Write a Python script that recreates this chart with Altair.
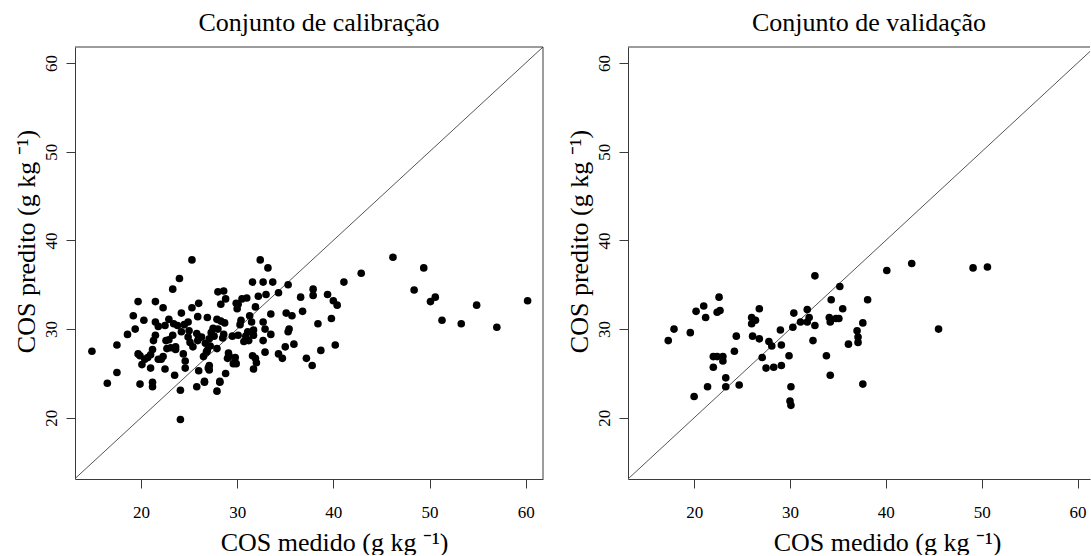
import altair as alt
import pandas as pd

# ---- data ----
cal_medido = [25.3, 32.4, 33.2, 46.2, 49.4, 42.9, 41.1, 24.0, 23.3, 31.6, 32.7, 33.7, 35.3, 48.4, 37.9, 37.9,
              34.3, 33.0, 32.2, 31.0, 28.0, 28.6, 28.8, 28.3, 30.5, 29.9, 30.0, 36.6, 39.4, 40.0, 40.4, 50.1,
              50.6, 54.9, 60.2, 51.3, 53.3, 57.0, 39.8, 38.4, 36.8, 35.1, 35.7, 33.5, 31.9, 31.3, 32.7, 32.9,
              35.4, 35.3, 33.5, 31.7, 31.7, 32.7, 32.9, 35.0, 35.9, 34.3, 34.7, 37.2, 38.7, 37.8, 40.2, 31.6,
              31.9, 32.0, 31.7, 31.2, 30.9, 30.7, 31.1, 30.4, 30.3, 31.5, 30.1, 29.6, 29.9, 29.1, 29.0, 28.8,
              28.6, 28.7, 28.3, 27.9, 27.5, 27.3, 27.6, 27.1, 26.9, 26.7, 27.2, 26.9, 26.5, 27.1, 27.1, 26.6,
              28.2, 27.9, 25.8, 26.0, 25.1, 25.4, 24.9, 25.8, 26.0, 25.9, 26.0, 25.3, 24.9, 24.5, 24.2, 24.2,
              23.8, 23.4, 23.3, 23.6, 23.1, 22.7, 22.9, 22.9, 22.5, 22.3, 21.5, 21.5, 21.5, 21.3, 21.2, 21.0,
              20.7, 21.8, 22.1, 22.3, 22.5, 23.5, 24.6, 24.6, 24.1, 24.1, 21.2, 21.2, 21.0, 20.1, 19.9, 19.7,
              19.7, 20.3, 19.2, 19.4, 18.6, 17.5, 14.9, 17.5, 16.5,
              26.8, 29.2, 25.9, 26.3, 23.6, 22.6, 28.2, 26.6, 27.0, 29.8, 25.0, 28.0, 28.5, 30.1, 29.5, 27.9,
              24.4, 21.8, 20.4, 19.9]
cal_predito = [37.8, 37.8, 36.9, 38.1, 36.9, 36.3, 35.3, 35.7, 34.5, 35.3, 35.3, 35.3, 35.0, 34.4, 34.5, 33.8,
               34.1, 33.9, 33.7, 33.5, 34.2, 34.3, 33.4, 32.8, 33.4, 32.9, 32.3, 33.6, 33.9, 33.2, 32.7, 33.1,
               33.6, 32.7, 33.2, 31.0, 30.6, 30.2, 31.2, 30.6, 32.0, 31.8, 31.5, 31.7, 32.5, 31.5, 30.8, 30.0,
               30.0, 29.7, 29.4, 29.9, 29.3, 28.7, 27.4, 28.0, 28.3, 27.2, 26.7, 26.7, 27.6, 25.9, 28.2, 27.0,
               26.7, 26.2, 25.5, 28.7, 29.2, 28.6, 29.7, 31.0, 30.5, 30.8, 29.3, 26.1, 26.1, 27.3, 26.7, 25.0,
               29.4, 30.7, 30.9, 31.1, 30.1, 29.6, 29.2, 28.9, 31.3, 28.4, 28.1, 27.6, 26.9, 25.9, 25.4, 24.0,
               24.0, 23.0, 23.5, 25.3, 28.5, 28.0, 29.1, 29.5, 29.1, 31.4, 32.9, 32.4, 30.8, 30.5, 31.8, 29.7,
               30.4, 30.6, 29.3, 27.7, 27.9, 27.8, 28.8, 31.1, 30.4, 32.4, 33.1, 30.8, 29.3, 28.7, 27.7, 27.1,
               26.8, 26.6, 26.6, 26.9, 25.5, 24.8, 26.4, 25.6, 23.1, 19.8, 24.0, 23.5, 25.6, 26.0, 23.8, 27.2,
               33.1, 31.0, 31.5, 30.0, 29.4, 28.2, 27.5, 25.1, 23.9,
               27.4, 26.9, 28.7, 29.1, 28.0, 28.7, 24.1, 24.1, 25.6, 26.8, 29.8, 30.0, 29.0, 32.8, 29.2, 27.8,
               27.2, 30.3, 26.6, 27.0]

val_medido = [17.3, 17.9, 19.6, 20.2, 21.0, 21.2, 22.4, 22.6, 22.7, 20.0, 21.4, 22.0, 22.4, 22.0, 23.0, 23.0,
              23.3, 23.3, 24.2, 24.4, 24.7, 26.0, 26.0, 26.4, 26.1, 26.8, 26.8, 27.1, 27.5, 27.8, 28.1, 28.3,
              29.0, 29.1, 29.1, 29.9, 30.1, 30.0, 30.1, 30.3, 30.4, 31.1, 31.8, 31.8, 32.0, 32.4, 32.6, 32.6,
              33.8, 34.1, 34.3, 34.2, 34.8, 34.2, 35.2, 35.1, 35.5, 36.1, 37.0, 37.1, 37.1, 37.6, 37.6, 38.1,
              40.1, 42.7, 45.5, 49.1, 50.6]
val_predito = [28.7, 30.0, 29.6, 32.0, 32.6, 31.3, 31.9, 33.6, 32.1, 22.4, 23.5, 26.9, 26.9, 25.7, 26.9, 26.4,
               24.5, 23.5, 27.5, 29.2, 23.7, 31.3, 30.6, 31.0, 29.2, 32.3, 28.9, 26.8, 25.6, 28.6, 28.1, 25.7,
               29.9, 28.2, 25.9, 27.0, 23.5, 21.9, 21.4, 30.2, 31.8, 30.8, 32.2, 30.8, 31.3, 28.7, 36.0, 30.4,
               27.0, 31.3, 33.3, 30.8, 31.2, 24.8, 34.8, 31.2, 32.3, 28.3, 29.8, 29.1, 28.5, 30.7, 23.8, 33.3,
               36.6, 37.4, 30.0, 36.9, 37.0]

ticks = [20, 30, 40, 50, 60]
y_domain = [13.1, 61.8]
cal_x_domain = [13.14, 61.8]
val_x_domain = [13.1, 61.3]
diag = [13.1, 61.8]

FONT = "Liberation Serif"
BOX = "#3a3a3a"
H = 432


def panel(xs, ys, title, width, xdom, right_border):
    df = pd.DataFrame({"medido": xs, "predito": ys})
    ddf = pd.DataFrame({"medido": diag, "predito": diag})
    xscale = alt.Scale(domain=xdom, nice=False, zero=False)
    yscale = alt.Scale(domain=y_domain, nice=False, zero=False)
    xaxis = alt.Axis(values=ticks, title="COS medido (g kg \u207b\u00b9)", labelPadding=16,
                     titleX=259, titleY=71, titleBaseline="alphabetic", titleAlign="center")
    yaxis = alt.Axis(values=ticks, title="COS predito (g kg \u207b\u00b9)", labelAngle=270,
                     labelAlign="center", labelBaseline="bottom", labelPadding=6,
                     titleAngle=270, titleX=-41, titleY=194, titleBaseline="alphabetic",
                     titleAlign="center")
    pts = alt.Chart(df).mark_circle(size=58, color="black", opacity=1).encode(
        x=alt.X("medido:Q", scale=xscale, axis=xaxis),
        y=alt.Y("predito:Q", scale=yscale, axis=yaxis),
    )
    line = alt.Chart(ddf).mark_line(color="#555555", strokeWidth=1, clip=True).encode(
        x=alt.X("medido:Q", scale=xscale, axis=xaxis),
        y=alt.Y("predito:Q", scale=yscale, axis=yaxis),
    )
    one = alt.Data(values=[{"a": 1}])
    top = alt.Chart(one).mark_rule(color=BOX, strokeWidth=1).encode(
        x=alt.value(0), x2=alt.value(width), y=alt.value(0))
    layers = [line, pts, top]
    if right_border:
        right = alt.Chart(one).mark_rule(color=BOX, strokeWidth=1).encode(
            x=alt.value(width), y=alt.value(0), y2=alt.value(H))
        layers.append(right)
    return alt.layer(*layers).properties(
        width=width, height=H,
        title=alt.TitleParams(title, fontSize=26, font=FONT, fontWeight="normal", anchor="middle",
                              frame="group", dx=10, offset=-10, baseline="alphabetic", color="black"),
    )


left = panel(cal_medido, cal_predito, "Conjunto de calibração", 468, cal_x_domain, True)
right = panel(val_medido, val_predito, "Conjunto de validação", 462, val_x_domain, False)

chart = alt.hconcat(left, right, spacing=22).properties(
    padding={"left": 13, "top": 9, "right": 0, "bottom": 0},
    background="white",
).configure_view(stroke=None).configure_axis(
    grid=False, labelFont=FONT, titleFont=FONT, labelFontSize=17, titleFontSize=26,
    titleFontWeight="normal", labelColor="black", titleColor="black",
    tickColor=BOX, domainColor=BOX, tickSize=9, domainWidth=1, tickWidth=1,
)

chart.save("out.html", embed_options={"renderer": "svg", "actions": False})
